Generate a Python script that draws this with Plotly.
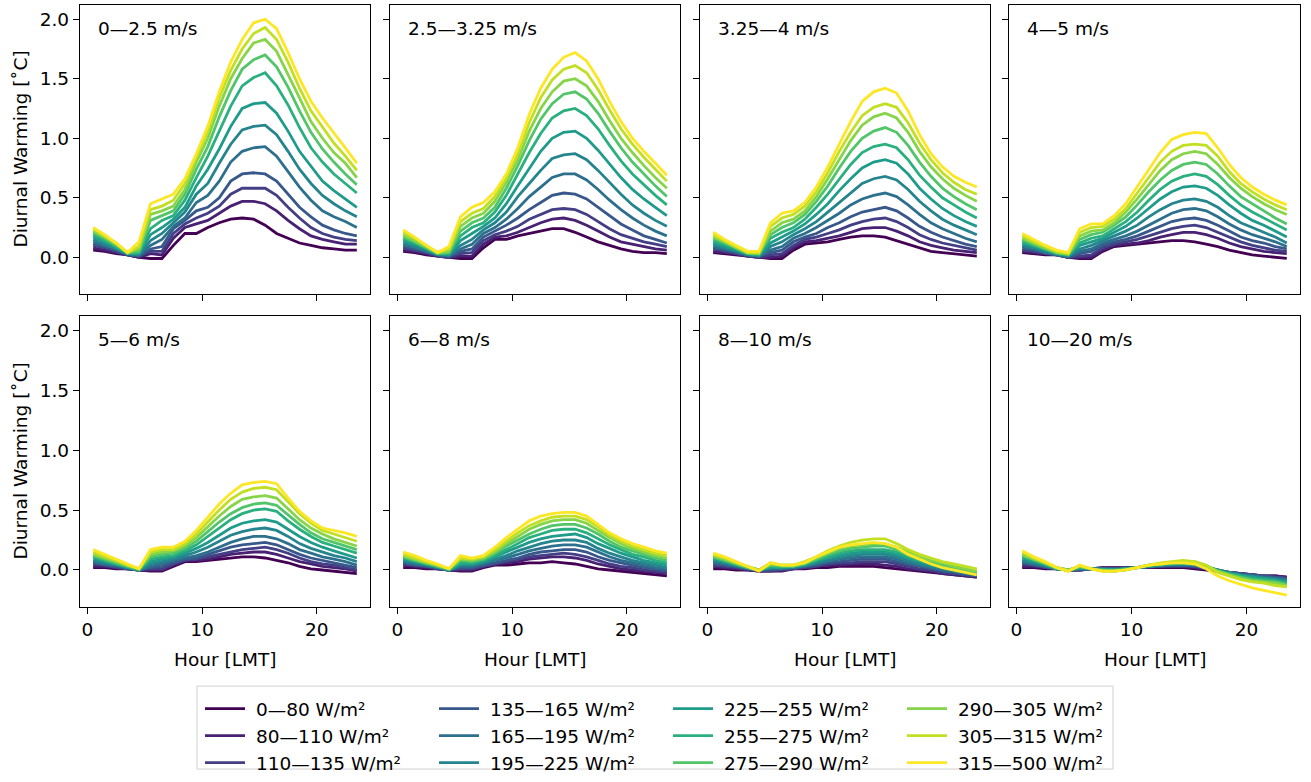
import plotly.graph_objects as go

hours = [0.5, 1.5, 2.5, 3.5, 4.5, 5.5, 6.5, 7.5, 8.5, 9.5, 10.5, 11.5,
         12.5, 13.5, 14.5, 15.5, 16.5, 17.5, 18.5, 19.5, 20.5, 21.5, 22.5, 23.5]

bins = ["0—80 W/m²", "80—110 W/m²", "110—135 W/m²", "135—165 W/m²",
        "165—195 W/m²", "195—225 W/m²", "225—255 W/m²", "255—275 W/m²",
        "275—290 W/m²", "290—305 W/m²", "305—315 W/m²", "315—500 W/m²"]

speeds = ["0—2.5 m/s", "2.5—3.25 m/s", "3.25—4 m/s", "4—5 m/s",
          "5—6 m/s", "6—8 m/s", "8—10 m/s", "10—20 m/s"]

# one row per hour, columns from the highest irradiance bin (315-500) down to 0-80
warm_0_2p5 = [
    [0.25, 0.24, 0.22, 0.21, 0.19, 0.17, 0.15, 0.13, 0.11, 0.10, 0.08, 0.06],
    [0.19, 0.18, 0.17, 0.16, 0.14, 0.13, 0.11, 0.10, 0.09, 0.08, 0.06, 0.05],
    [0.12, 0.12, 0.11, 0.10, 0.09, 0.08, 0.07, 0.07, 0.06, 0.05, 0.04, 0.03],
    [0.04, 0.04, 0.04, 0.04, 0.03, 0.03, 0.03, 0.03, 0.02, 0.02, 0.02, 0.02],
    [0.13, 0.09, 0.07, 0.05, 0.04, 0.03, 0.02, 0.02, 0.01, 0.01, 0.00, 0.00],
    [0.45, 0.40, 0.36, 0.31, 0.24, 0.19, 0.14, 0.10, 0.07, 0.05, 0.03, -0.01],
    [0.49, 0.43, 0.39, 0.35, 0.31, 0.25, 0.20, 0.15, 0.09, 0.05, 0.02, -0.01],
    [0.53, 0.48, 0.43, 0.39, 0.35, 0.32, 0.29, 0.26, 0.24, 0.20, 0.16, 0.10],
    [0.66, 0.62, 0.57, 0.53, 0.48, 0.42, 0.38, 0.33, 0.31, 0.28, 0.25, 0.20],
    [0.87, 0.84, 0.80, 0.74, 0.67, 0.60, 0.53, 0.46, 0.39, 0.33, 0.28, 0.20],
    [1.10, 1.06, 1.00, 0.93, 0.85, 0.74, 0.62, 0.52, 0.42, 0.37, 0.31, 0.25],
    [1.39, 1.34, 1.27, 1.18, 1.06, 0.91, 0.79, 0.64, 0.50, 0.43, 0.37, 0.29],
    [1.64, 1.57, 1.50, 1.40, 1.27, 1.10, 0.95, 0.80, 0.64, 0.53, 0.43, 0.32],
    [1.83, 1.75, 1.67, 1.58, 1.44, 1.25, 1.07, 0.89, 0.70, 0.58, 0.47, 0.33],
    [1.97, 1.88, 1.80, 1.66, 1.51, 1.29, 1.10, 0.92, 0.71, 0.58, 0.47, 0.32],
    [2.00, 1.93, 1.83, 1.70, 1.55, 1.30, 1.11, 0.93, 0.70, 0.58, 0.45, 0.27],
    [1.92, 1.83, 1.73, 1.60, 1.44, 1.21, 1.03, 0.85, 0.64, 0.52, 0.39, 0.20],
    [1.72, 1.64, 1.54, 1.43, 1.28, 1.06, 0.89, 0.72, 0.53, 0.42, 0.31, 0.16],
    [1.50, 1.42, 1.34, 1.23, 1.09, 0.89, 0.74, 0.59, 0.42, 0.33, 0.24, 0.12],
    [1.31, 1.23, 1.14, 1.05, 0.92, 0.76, 0.62, 0.48, 0.34, 0.25, 0.18, 0.10],
    [1.17, 1.09, 1.00, 0.91, 0.80, 0.64, 0.52, 0.39, 0.27, 0.20, 0.15, 0.08],
    [1.05, 0.96, 0.88, 0.80, 0.70, 0.56, 0.45, 0.34, 0.23, 0.17, 0.13, 0.07],
    [0.92, 0.85, 0.79, 0.70, 0.62, 0.49, 0.39, 0.30, 0.20, 0.15, 0.11, 0.06],
    [0.79, 0.73, 0.67, 0.61, 0.54, 0.42, 0.34, 0.25, 0.18, 0.14, 0.11, 0.06],
]

warm_2p5_3p25 = [
    [0.23, 0.21, 0.19, 0.17, 0.16, 0.14, 0.12, 0.11, 0.09, 0.08, 0.06, 0.05],
    [0.17, 0.16, 0.14, 0.13, 0.12, 0.11, 0.09, 0.08, 0.07, 0.06, 0.05, 0.04],
    [0.10, 0.10, 0.09, 0.08, 0.08, 0.07, 0.06, 0.05, 0.05, 0.04, 0.03, 0.02],
    [0.04, 0.04, 0.04, 0.03, 0.03, 0.03, 0.02, 0.02, 0.02, 0.01, 0.01, 0.01],
    [0.09, 0.07, 0.05, 0.04, 0.03, 0.02, 0.02, 0.01, 0.01, 0.00, 0.00, 0.00],
    [0.34, 0.30, 0.26, 0.22, 0.18, 0.14, 0.10, 0.07, 0.05, 0.03, 0.01, -0.01],
    [0.42, 0.37, 0.33, 0.29, 0.25, 0.20, 0.15, 0.11, 0.07, 0.04, 0.01, -0.01],
    [0.46, 0.41, 0.37, 0.33, 0.29, 0.26, 0.23, 0.20, 0.17, 0.14, 0.11, 0.08],
    [0.55, 0.51, 0.47, 0.42, 0.38, 0.33, 0.29, 0.25, 0.22, 0.19, 0.17, 0.15],
    [0.70, 0.67, 0.63, 0.58, 0.52, 0.45, 0.38, 0.32, 0.27, 0.22, 0.18, 0.15],
    [0.92, 0.87, 0.82, 0.77, 0.70, 0.60, 0.51, 0.41, 0.33, 0.26, 0.21, 0.18],
    [1.20, 1.13, 1.06, 0.98, 0.88, 0.75, 0.62, 0.51, 0.40, 0.32, 0.25, 0.20],
    [1.42, 1.34, 1.25, 1.16, 1.04, 0.89, 0.73, 0.59, 0.46, 0.36, 0.29, 0.22],
    [1.58, 1.49, 1.39, 1.29, 1.17, 1.00, 0.83, 0.67, 0.52, 0.40, 0.32, 0.24],
    [1.68, 1.58, 1.48, 1.37, 1.23, 1.05, 0.86, 0.70, 0.54, 0.41, 0.33, 0.24],
    [1.72, 1.61, 1.50, 1.39, 1.25, 1.06, 0.87, 0.70, 0.53, 0.40, 0.31, 0.21],
    [1.65, 1.55, 1.44, 1.33, 1.19, 1.00, 0.82, 0.65, 0.49, 0.36, 0.27, 0.17],
    [1.50, 1.41, 1.31, 1.21, 1.08, 0.90, 0.73, 0.57, 0.42, 0.30, 0.22, 0.13],
    [1.31, 1.24, 1.15, 1.06, 0.94, 0.78, 0.63, 0.48, 0.35, 0.24, 0.17, 0.10],
    [1.14, 1.08, 1.00, 0.92, 0.81, 0.67, 0.53, 0.40, 0.28, 0.19, 0.13, 0.07],
    [1.00, 0.95, 0.88, 0.80, 0.70, 0.57, 0.44, 0.33, 0.23, 0.16, 0.11, 0.05],
    [0.89, 0.84, 0.77, 0.70, 0.61, 0.49, 0.37, 0.27, 0.18, 0.13, 0.09, 0.04],
    [0.79, 0.74, 0.67, 0.60, 0.52, 0.42, 0.31, 0.22, 0.15, 0.11, 0.07, 0.04],
    [0.69, 0.64, 0.58, 0.51, 0.44, 0.35, 0.26, 0.18, 0.12, 0.09, 0.06, 0.03],
]

warm_3p25_4 = [
    [0.21, 0.19, 0.17, 0.16, 0.14, 0.12, 0.11, 0.09, 0.08, 0.07, 0.05, 0.04],
    [0.15, 0.14, 0.13, 0.12, 0.11, 0.09, 0.08, 0.07, 0.06, 0.05, 0.04, 0.03],
    [0.10, 0.09, 0.08, 0.08, 0.07, 0.06, 0.05, 0.05, 0.04, 0.03, 0.03, 0.02],
    [0.05, 0.04, 0.04, 0.03, 0.03, 0.03, 0.02, 0.02, 0.02, 0.01, 0.01, 0.01],
    [0.05, 0.04, 0.03, 0.03, 0.02, 0.02, 0.01, 0.01, 0.01, 0.00, 0.00, 0.00],
    [0.29, 0.26, 0.22, 0.19, 0.16, 0.12, 0.09, 0.06, 0.04, 0.02, 0.00, -0.01],
    [0.37, 0.33, 0.29, 0.25, 0.21, 0.17, 0.13, 0.09, 0.06, 0.03, 0.01, -0.01],
    [0.39, 0.36, 0.32, 0.29, 0.25, 0.22, 0.19, 0.16, 0.13, 0.10, 0.08, 0.06],
    [0.46, 0.43, 0.39, 0.36, 0.32, 0.28, 0.24, 0.20, 0.17, 0.15, 0.13, 0.11],
    [0.59, 0.55, 0.51, 0.47, 0.42, 0.36, 0.30, 0.25, 0.20, 0.17, 0.14, 0.12],
    [0.76, 0.71, 0.66, 0.60, 0.53, 0.45, 0.38, 0.31, 0.25, 0.20, 0.16, 0.13],
    [0.95, 0.89, 0.82, 0.75, 0.66, 0.56, 0.46, 0.37, 0.29, 0.23, 0.18, 0.15],
    [1.14, 1.05, 0.98, 0.89, 0.78, 0.66, 0.54, 0.44, 0.34, 0.27, 0.21, 0.17],
    [1.31, 1.19, 1.11, 1.00, 0.88, 0.75, 0.62, 0.49, 0.38, 0.30, 0.24, 0.18],
    [1.39, 1.26, 1.18, 1.06, 0.93, 0.80, 0.66, 0.52, 0.40, 0.32, 0.25, 0.18],
    [1.42, 1.29, 1.21, 1.09, 0.95, 0.82, 0.68, 0.54, 0.42, 0.33, 0.25, 0.17],
    [1.38, 1.26, 1.17, 1.05, 0.92, 0.79, 0.65, 0.51, 0.39, 0.30, 0.22, 0.14],
    [1.23, 1.13, 1.05, 0.94, 0.82, 0.70, 0.57, 0.44, 0.33, 0.25, 0.18, 0.11],
    [1.03, 0.96, 0.89, 0.80, 0.69, 0.58, 0.47, 0.36, 0.26, 0.19, 0.13, 0.08],
    [0.87, 0.82, 0.76, 0.68, 0.59, 0.49, 0.39, 0.29, 0.21, 0.15, 0.10, 0.05],
    [0.76, 0.71, 0.66, 0.58, 0.50, 0.41, 0.32, 0.24, 0.17, 0.12, 0.08, 0.04],
    [0.68, 0.63, 0.58, 0.51, 0.44, 0.35, 0.27, 0.20, 0.14, 0.10, 0.06, 0.03],
    [0.63, 0.57, 0.52, 0.45, 0.38, 0.30, 0.23, 0.16, 0.11, 0.08, 0.05, 0.02],
    [0.59, 0.53, 0.47, 0.40, 0.33, 0.26, 0.19, 0.13, 0.09, 0.06, 0.04, 0.01],
]

warm_4_5 = [
    [0.20, 0.18, 0.16, 0.15, 0.13, 0.12, 0.10, 0.09, 0.07, 0.06, 0.05, 0.04],
    [0.15, 0.13, 0.12, 0.11, 0.10, 0.09, 0.08, 0.07, 0.06, 0.05, 0.04, 0.03],
    [0.10, 0.09, 0.08, 0.07, 0.07, 0.06, 0.05, 0.04, 0.04, 0.03, 0.03, 0.02],
    [0.06, 0.05, 0.04, 0.04, 0.03, 0.03, 0.03, 0.02, 0.02, 0.02, 0.02, 0.02],
    [0.04, 0.03, 0.03, 0.02, 0.02, 0.01, 0.01, 0.01, 0.00, 0.00, 0.00, 0.00],
    [0.24, 0.21, 0.18, 0.15, 0.12, 0.10, 0.07, 0.05, 0.03, 0.01, 0.00, -0.01],
    [0.28, 0.25, 0.22, 0.19, 0.16, 0.13, 0.10, 0.07, 0.05, 0.02, 0.00, -0.01],
    [0.28, 0.26, 0.23, 0.21, 0.18, 0.16, 0.14, 0.12, 0.10, 0.08, 0.06, 0.05],
    [0.35, 0.32, 0.29, 0.27, 0.24, 0.21, 0.18, 0.15, 0.13, 0.11, 0.10, 0.09],
    [0.45, 0.41, 0.38, 0.34, 0.30, 0.26, 0.22, 0.18, 0.15, 0.13, 0.11, 0.10],
    [0.59, 0.54, 0.49, 0.44, 0.38, 0.33, 0.27, 0.22, 0.18, 0.15, 0.12, 0.11],
    [0.74, 0.67, 0.61, 0.55, 0.48, 0.41, 0.34, 0.27, 0.22, 0.18, 0.14, 0.12],
    [0.88, 0.80, 0.73, 0.65, 0.57, 0.49, 0.40, 0.32, 0.26, 0.21, 0.17, 0.13],
    [0.99, 0.89, 0.82, 0.73, 0.64, 0.55, 0.45, 0.37, 0.30, 0.24, 0.19, 0.14],
    [1.03, 0.94, 0.87, 0.78, 0.68, 0.59, 0.48, 0.40, 0.32, 0.26, 0.21, 0.14],
    [1.05, 0.95, 0.89, 0.80, 0.70, 0.60, 0.49, 0.41, 0.33, 0.27, 0.21, 0.13],
    [1.04, 0.94, 0.87, 0.78, 0.68, 0.58, 0.47, 0.39, 0.31, 0.25, 0.19, 0.11],
    [0.92, 0.85, 0.78, 0.70, 0.61, 0.52, 0.42, 0.34, 0.27, 0.21, 0.16, 0.09],
    [0.78, 0.72, 0.67, 0.60, 0.52, 0.44, 0.35, 0.28, 0.22, 0.17, 0.12, 0.06],
    [0.67, 0.62, 0.58, 0.51, 0.44, 0.37, 0.29, 0.23, 0.17, 0.13, 0.09, 0.04],
    [0.59, 0.55, 0.51, 0.45, 0.38, 0.31, 0.25, 0.19, 0.14, 0.10, 0.07, 0.02],
    [0.53, 0.49, 0.45, 0.39, 0.33, 0.27, 0.21, 0.16, 0.12, 0.08, 0.05, 0.01],
    [0.48, 0.44, 0.40, 0.33, 0.28, 0.22, 0.17, 0.13, 0.09, 0.06, 0.04, 0.00],
    [0.44, 0.40, 0.36, 0.28, 0.23, 0.17, 0.12, 0.09, 0.07, 0.05, 0.03, -0.01],
]

warm_5_6 = [
    [0.17, 0.15, 0.13, 0.12, 0.11, 0.10, 0.08, 0.07, 0.06, 0.05, 0.03, 0.02],
    [0.13, 0.11, 0.10, 0.09, 0.08, 0.07, 0.06, 0.05, 0.04, 0.04, 0.03, 0.02],
    [0.09, 0.08, 0.07, 0.06, 0.05, 0.05, 0.04, 0.04, 0.03, 0.02, 0.02, 0.01],
    [0.05, 0.04, 0.04, 0.03, 0.03, 0.02, 0.02, 0.02, 0.01, 0.01, 0.01, 0.01],
    [0.01, 0.01, 0.01, 0.01, 0.00, 0.00, 0.00, 0.00, 0.00, 0.00, 0.00, 0.00],
    [0.17, 0.15, 0.13, 0.11, 0.09, 0.07, 0.05, 0.03, 0.02, 0.01, 0.00, -0.01],
    [0.19, 0.17, 0.15, 0.13, 0.11, 0.09, 0.07, 0.05, 0.03, 0.01, 0.00, -0.01],
    [0.19, 0.17, 0.16, 0.14, 0.12, 0.11, 0.09, 0.08, 0.06, 0.05, 0.04, 0.03],
    [0.24, 0.22, 0.20, 0.18, 0.16, 0.14, 0.12, 0.10, 0.09, 0.08, 0.08, 0.07],
    [0.33, 0.30, 0.27, 0.24, 0.21, 0.18, 0.15, 0.12, 0.10, 0.09, 0.08, 0.07],
    [0.44, 0.40, 0.36, 0.32, 0.28, 0.23, 0.19, 0.15, 0.13, 0.11, 0.09, 0.08],
    [0.55, 0.50, 0.45, 0.40, 0.35, 0.29, 0.24, 0.19, 0.16, 0.13, 0.11, 0.09],
    [0.64, 0.59, 0.53, 0.47, 0.42, 0.35, 0.29, 0.23, 0.19, 0.15, 0.13, 0.10],
    [0.71, 0.65, 0.59, 0.52, 0.47, 0.39, 0.32, 0.26, 0.21, 0.17, 0.14, 0.11],
    [0.73, 0.68, 0.61, 0.55, 0.50, 0.41, 0.34, 0.28, 0.22, 0.18, 0.15, 0.11],
    [0.74, 0.69, 0.62, 0.56, 0.51, 0.42, 0.35, 0.28, 0.23, 0.19, 0.15, 0.10],
    [0.72, 0.67, 0.60, 0.54, 0.49, 0.40, 0.33, 0.26, 0.21, 0.17, 0.13, 0.08],
    [0.60, 0.57, 0.51, 0.46, 0.41, 0.34, 0.28, 0.22, 0.17, 0.14, 0.10, 0.06],
    [0.49, 0.47, 0.42, 0.38, 0.34, 0.28, 0.22, 0.17, 0.13, 0.10, 0.07, 0.03],
    [0.41, 0.39, 0.35, 0.31, 0.28, 0.23, 0.18, 0.14, 0.10, 0.07, 0.05, 0.01],
    [0.35, 0.33, 0.30, 0.26, 0.23, 0.19, 0.15, 0.11, 0.08, 0.05, 0.03, 0.00],
    [0.33, 0.30, 0.26, 0.23, 0.20, 0.16, 0.12, 0.09, 0.06, 0.04, 0.02, -0.01],
    [0.31, 0.27, 0.23, 0.20, 0.17, 0.13, 0.10, 0.07, 0.04, 0.02, 0.01, -0.02],
    [0.28, 0.24, 0.20, 0.17, 0.14, 0.10, 0.07, 0.04, 0.02, 0.00, -0.01, -0.03],
]

warm_6_8 = [
    [0.15, 0.13, 0.12, 0.11, 0.10, 0.09, 0.08, 0.07, 0.06, 0.05, 0.04, 0.02],
    [0.12, 0.10, 0.09, 0.08, 0.08, 0.07, 0.06, 0.05, 0.04, 0.04, 0.03, 0.02],
    [0.08, 0.07, 0.06, 0.06, 0.05, 0.05, 0.04, 0.04, 0.03, 0.03, 0.02, 0.01],
    [0.05, 0.04, 0.04, 0.03, 0.03, 0.03, 0.02, 0.02, 0.02, 0.01, 0.01, 0.01],
    [0.01, 0.01, 0.01, 0.01, 0.00, 0.00, 0.00, 0.00, 0.00, 0.00, 0.00, 0.00],
    [0.12, 0.10, 0.09, 0.08, 0.06, 0.05, 0.04, 0.03, 0.02, 0.01, 0.00, -0.01],
    [0.10, 0.09, 0.08, 0.07, 0.06, 0.05, 0.04, 0.03, 0.02, 0.01, 0.00, -0.01],
    [0.12, 0.11, 0.10, 0.09, 0.08, 0.07, 0.06, 0.05, 0.04, 0.03, 0.03, 0.02],
    [0.19, 0.17, 0.15, 0.14, 0.12, 0.11, 0.09, 0.08, 0.06, 0.05, 0.05, 0.04],
    [0.27, 0.24, 0.22, 0.20, 0.17, 0.15, 0.12, 0.10, 0.08, 0.07, 0.06, 0.04],
    [0.34, 0.31, 0.28, 0.25, 0.22, 0.19, 0.16, 0.13, 0.10, 0.09, 0.07, 0.05],
    [0.41, 0.37, 0.34, 0.30, 0.27, 0.23, 0.19, 0.16, 0.13, 0.11, 0.09, 0.06],
    [0.45, 0.41, 0.38, 0.34, 0.30, 0.26, 0.22, 0.18, 0.15, 0.12, 0.10, 0.06],
    [0.47, 0.44, 0.41, 0.37, 0.33, 0.28, 0.24, 0.20, 0.16, 0.13, 0.11, 0.07],
    [0.48, 0.45, 0.42, 0.38, 0.34, 0.29, 0.25, 0.21, 0.17, 0.14, 0.11, 0.06],
    [0.48, 0.45, 0.42, 0.38, 0.34, 0.30, 0.25, 0.21, 0.17, 0.13, 0.10, 0.05],
    [0.45, 0.42, 0.39, 0.35, 0.31, 0.27, 0.23, 0.19, 0.15, 0.11, 0.08, 0.03],
    [0.38, 0.36, 0.33, 0.30, 0.26, 0.22, 0.18, 0.15, 0.11, 0.08, 0.05, 0.01],
    [0.31, 0.29, 0.27, 0.24, 0.21, 0.18, 0.14, 0.11, 0.08, 0.05, 0.03, 0.00],
    [0.26, 0.24, 0.22, 0.19, 0.17, 0.14, 0.11, 0.08, 0.06, 0.03, 0.01, -0.01],
    [0.22, 0.20, 0.18, 0.16, 0.13, 0.11, 0.08, 0.06, 0.04, 0.02, 0.00, -0.02],
    [0.19, 0.17, 0.15, 0.13, 0.11, 0.08, 0.06, 0.04, 0.02, 0.00, -0.01, -0.03],
    [0.16, 0.14, 0.12, 0.10, 0.08, 0.06, 0.04, 0.02, 0.01, -0.01, -0.02, -0.04],
    [0.14, 0.12, 0.10, 0.08, 0.06, 0.04, 0.02, 0.01, -0.01, -0.02, -0.03, -0.05],
]

warm_8_10 = [
    [0.14, 0.13, 0.12, 0.11, 0.10, 0.09, 0.08, 0.07, 0.05, 0.04, 0.03, 0.01],
    [0.11, 0.10, 0.09, 0.08, 0.08, 0.07, 0.06, 0.05, 0.04, 0.03, 0.02, 0.01],
    [0.07, 0.06, 0.06, 0.05, 0.05, 0.04, 0.04, 0.03, 0.03, 0.02, 0.01, 0.00],
    [0.03, 0.03, 0.03, 0.02, 0.02, 0.02, 0.02, 0.01, 0.01, 0.01, 0.00, 0.00],
    [-0.01, 0.00, 0.00, 0.00, 0.00, 0.00, 0.00, 0.00, 0.00, -0.01, -0.01, -0.01],
    [0.06, 0.06, 0.05, 0.04, 0.03, 0.02, 0.02, 0.01, 0.00, 0.00, -0.01, -0.01],
    [0.04, 0.04, 0.04, 0.03, 0.03, 0.02, 0.02, 0.01, 0.01, 0.00, 0.00, -0.01],
    [0.04, 0.04, 0.04, 0.03, 0.03, 0.03, 0.02, 0.02, 0.02, 0.01, 0.01, 0.01],
    [0.06, 0.07, 0.06, 0.05, 0.05, 0.04, 0.04, 0.03, 0.03, 0.02, 0.02, 0.01],
    [0.11, 0.11, 0.10, 0.09, 0.08, 0.07, 0.06, 0.05, 0.04, 0.03, 0.03, 0.02],
    [0.15, 0.16, 0.14, 0.13, 0.11, 0.10, 0.08, 0.07, 0.06, 0.05, 0.04, 0.02],
    [0.19, 0.20, 0.18, 0.16, 0.14, 0.12, 0.10, 0.09, 0.07, 0.06, 0.04, 0.03],
    [0.21, 0.23, 0.20, 0.18, 0.16, 0.14, 0.12, 0.10, 0.08, 0.06, 0.05, 0.03],
    [0.22, 0.25, 0.21, 0.19, 0.17, 0.15, 0.13, 0.11, 0.09, 0.07, 0.05, 0.03],
    [0.23, 0.26, 0.22, 0.20, 0.17, 0.15, 0.13, 0.11, 0.09, 0.07, 0.05, 0.03],
    [0.22, 0.26, 0.22, 0.20, 0.17, 0.15, 0.13, 0.11, 0.09, 0.07, 0.04, 0.02],
    [0.19, 0.22, 0.19, 0.17, 0.15, 0.13, 0.11, 0.09, 0.07, 0.05, 0.03, 0.01],
    [0.13, 0.17, 0.15, 0.13, 0.11, 0.10, 0.08, 0.06, 0.05, 0.03, 0.01, 0.00],
    [0.09, 0.13, 0.11, 0.10, 0.08, 0.07, 0.05, 0.04, 0.03, 0.01, 0.00, -0.01],
    [0.05, 0.10, 0.08, 0.07, 0.06, 0.04, 0.03, 0.02, 0.01, 0.00, -0.01, -0.02],
    [0.02, 0.07, 0.06, 0.04, 0.03, 0.02, 0.01, 0.00, -0.01, -0.02, -0.03, -0.03],
    [0.00, 0.05, 0.03, 0.02, 0.01, 0.00, -0.01, -0.01, -0.02, -0.03, -0.04, -0.04],
    [-0.02, 0.03, 0.01, 0.00, -0.01, -0.02, -0.02, -0.03, -0.04, -0.04, -0.05, -0.05],
    [-0.04, 0.01, -0.01, -0.02, -0.02, -0.03, -0.04, -0.04, -0.05, -0.05, -0.06, -0.06],
]

warm_10_20 = [
    [0.16, 0.15, 0.13, 0.12, 0.11, 0.10, 0.08, 0.07, 0.06, 0.05, 0.03, 0.02],
    [0.11, 0.10, 0.09, 0.09, 0.08, 0.07, 0.06, 0.05, 0.04, 0.04, 0.03, 0.02],
    [0.07, 0.06, 0.06, 0.05, 0.05, 0.04, 0.04, 0.03, 0.03, 0.02, 0.02, 0.01],
    [0.02, 0.02, 0.02, 0.02, 0.01, 0.01, 0.01, 0.01, 0.01, 0.01, 0.01, 0.01],
    [-0.01, -0.01, 0.00, 0.00, 0.00, 0.00, 0.00, 0.00, 0.00, 0.00, 0.00, 0.00],
    [0.04, 0.04, 0.03, 0.03, 0.02, 0.02, 0.01, 0.01, 0.01, 0.00, 0.00, 0.00],
    [0.01, 0.01, 0.01, 0.01, 0.01, 0.01, 0.01, 0.01, 0.01, 0.01, 0.01, 0.01],
    [-0.01, -0.01, -0.01, 0.00, 0.00, 0.00, 0.01, 0.01, 0.01, 0.01, 0.02, 0.02],
    [-0.01, -0.01, -0.01, -0.01, 0.00, 0.00, 0.00, 0.01, 0.01, 0.01, 0.02, 0.02],
    [0.00, 0.00, 0.00, 0.00, 0.01, 0.01, 0.01, 0.01, 0.01, 0.02, 0.02, 0.02],
    [0.02, 0.02, 0.02, 0.02, 0.02, 0.02, 0.02, 0.02, 0.02, 0.02, 0.02, 0.02],
    [0.04, 0.04, 0.04, 0.04, 0.04, 0.03, 0.03, 0.03, 0.03, 0.03, 0.02, 0.02],
    [0.05, 0.06, 0.05, 0.05, 0.05, 0.04, 0.04, 0.04, 0.03, 0.03, 0.03, 0.02],
    [0.06, 0.07, 0.06, 0.06, 0.05, 0.05, 0.05, 0.04, 0.04, 0.03, 0.03, 0.02],
    [0.06, 0.08, 0.07, 0.06, 0.06, 0.05, 0.05, 0.04, 0.04, 0.03, 0.03, 0.02],
    [0.05, 0.07, 0.07, 0.06, 0.05, 0.05, 0.04, 0.04, 0.03, 0.03, 0.02, 0.01],
    [0.01, 0.04, 0.04, 0.03, 0.03, 0.03, 0.02, 0.02, 0.02, 0.01, 0.01, 0.00],
    [-0.05, -0.02, -0.01, -0.01, -0.01, 0.00, 0.00, 0.00, 0.00, -0.01, -0.01, -0.01],
    [-0.09, -0.05, -0.04, -0.04, -0.03, -0.03, -0.02, -0.02, -0.02, -0.02, -0.02, -0.02],
    [-0.12, -0.08, -0.07, -0.06, -0.05, -0.05, -0.04, -0.04, -0.03, -0.03, -0.03, -0.03],
    [-0.15, -0.10, -0.09, -0.08, -0.07, -0.06, -0.05, -0.05, -0.04, -0.04, -0.04, -0.04],
    [-0.17, -0.11, -0.10, -0.09, -0.08, -0.07, -0.07, -0.06, -0.05, -0.05, -0.05, -0.05],
    [-0.19, -0.13, -0.11, -0.10, -0.09, -0.08, -0.08, -0.07, -0.06, -0.06, -0.05, -0.05],
    [-0.21, -0.14, -0.13, -0.12, -0.11, -0.10, -0.09, -0.08, -0.07, -0.07, -0.06, -0.06],
]

tables = [warm_0_2p5, warm_2p5_3p25, warm_3p25_4, warm_4_5,
          warm_5_6, warm_6_8, warm_8_10, warm_10_20]

# viridis sampled at 12 evenly spaced points
colors = ["#440154", "#482173", "#433e85", "#38588c", "#2d708e", "#25858e",
          "#1e9b8a", "#2ab07f", "#52c569", "#86d549", "#c2df23", "#fde725"]

W, H = 1311, 782
col_px = [(80, 370), (390, 680), (700, 990), (1009, 1300)]
row_px = [(5, 298), (320, 615)]
font = dict(family="DejaVu Sans", size=18.5, color="black")

fig = go.Figure()
for p, table in enumerate(tables):
    ax = "" if p == 0 else str(p + 1)
    for i, name in enumerate(bins):
        ys = [row[11 - i] for row in table]
        # leading no-break space widens the gap between legend line and label
        fig.add_trace(go.Scatter(x=hours, y=ys, mode="lines", name="\u00a0" + name,
                                 xaxis="x" + ax, yaxis="y" + ax,
                                 line=dict(color=colors[i], width=2.8),
                                 showlegend=(p == 0),
                                 legend="legend" if i < 3 else "legend%d" % (i // 3 + 1)))

annotations = []
for p, label in enumerate(speeds):
    r, c = divmod(p, 4)
    ax = "" if p == 0 else str(p + 1)
    x0, x1 = col_px[c]
    y0, y1 = row_px[r]
    fig.layout["xaxis" + ax] = dict(
        domain=[x0 / W, x1 / W], anchor="y" + ax, range=[-0.65, 24.65],
        tickvals=[0, 10, 20], showticklabels=(r == 1), ticks="outside", ticklen=6,
        tickwidth=1.3, tickcolor="black", showline=True, mirror=True,
        linecolor="black", linewidth=1.3, showgrid=False, zeroline=False, tickfont=font)
    fig.layout["yaxis" + ax] = dict(
        domain=[1 - y1 / H, 1 - y0 / H], anchor="x" + ax, range=[-0.31, 2.12],
        tickvals=[0, 0.5, 1, 1.5, 2], tickformat=".1f", showticklabels=(c == 0),
        ticks="outside", ticklen=6, tickwidth=1.3, tickcolor="black", showline=True,
        mirror=True, linecolor="black", linewidth=1.3, showgrid=False, zeroline=False,
        tickfont=font)
    annotations.append(dict(text=label, xref="x%s domain" % ax, yref="y%s domain" % ax,
                            x=0.055, y=0.92, xanchor="left", yanchor="middle",
                            showarrow=False, font=font))
    if c == 0:
        annotations.append(dict(text="Diurnal Warming [˚C]", textangle=-90, xref="paper",
                                yref="paper", x=21 / W, y=1 - (y0 + y1) / 2 / H,
                                xanchor="center", yanchor="middle", showarrow=False,
                                font=font))
    if r == 1:
        annotations.append(dict(text="Hour [LMT]", xref="paper", yref="paper",
                                x=(x0 + x1) / 2 / W, y=1 - 668 / H, xanchor="center",
                                yanchor="middle", showarrow=False, font=font))

legend_x = [200, 434, 668, 902]
legend_style = dict(font=font, bgcolor="rgba(0,0,0,0)", borderwidth=0, itemwidth=40,
                    yanchor="top", xanchor="left", y=1 - 699 / H)
fig.update_layout(
    width=W, height=H, margin=dict(l=0, r=0, t=0, b=0),
    paper_bgcolor="white", plot_bgcolor="white", font=font,
    annotations=annotations,
    legend=dict(x=legend_x[0] / W, **legend_style),
    legend2=dict(x=legend_x[1] / W, **legend_style),
    legend3=dict(x=legend_x[2] / W, **legend_style),
    legend4=dict(x=legend_x[3] / W, **legend_style),
    shapes=[dict(type="rect", xref="paper", yref="paper", x0=197 / W, x1=1113 / W,
                 y0=1 - 779 / H, y1=1 - 695 / H, line=dict(color="#d0d0d0", width=1))],
)

fig.write_html("out.html", config={"displayModeBar": False},
               post_script="document.body.style.margin = '0';")
